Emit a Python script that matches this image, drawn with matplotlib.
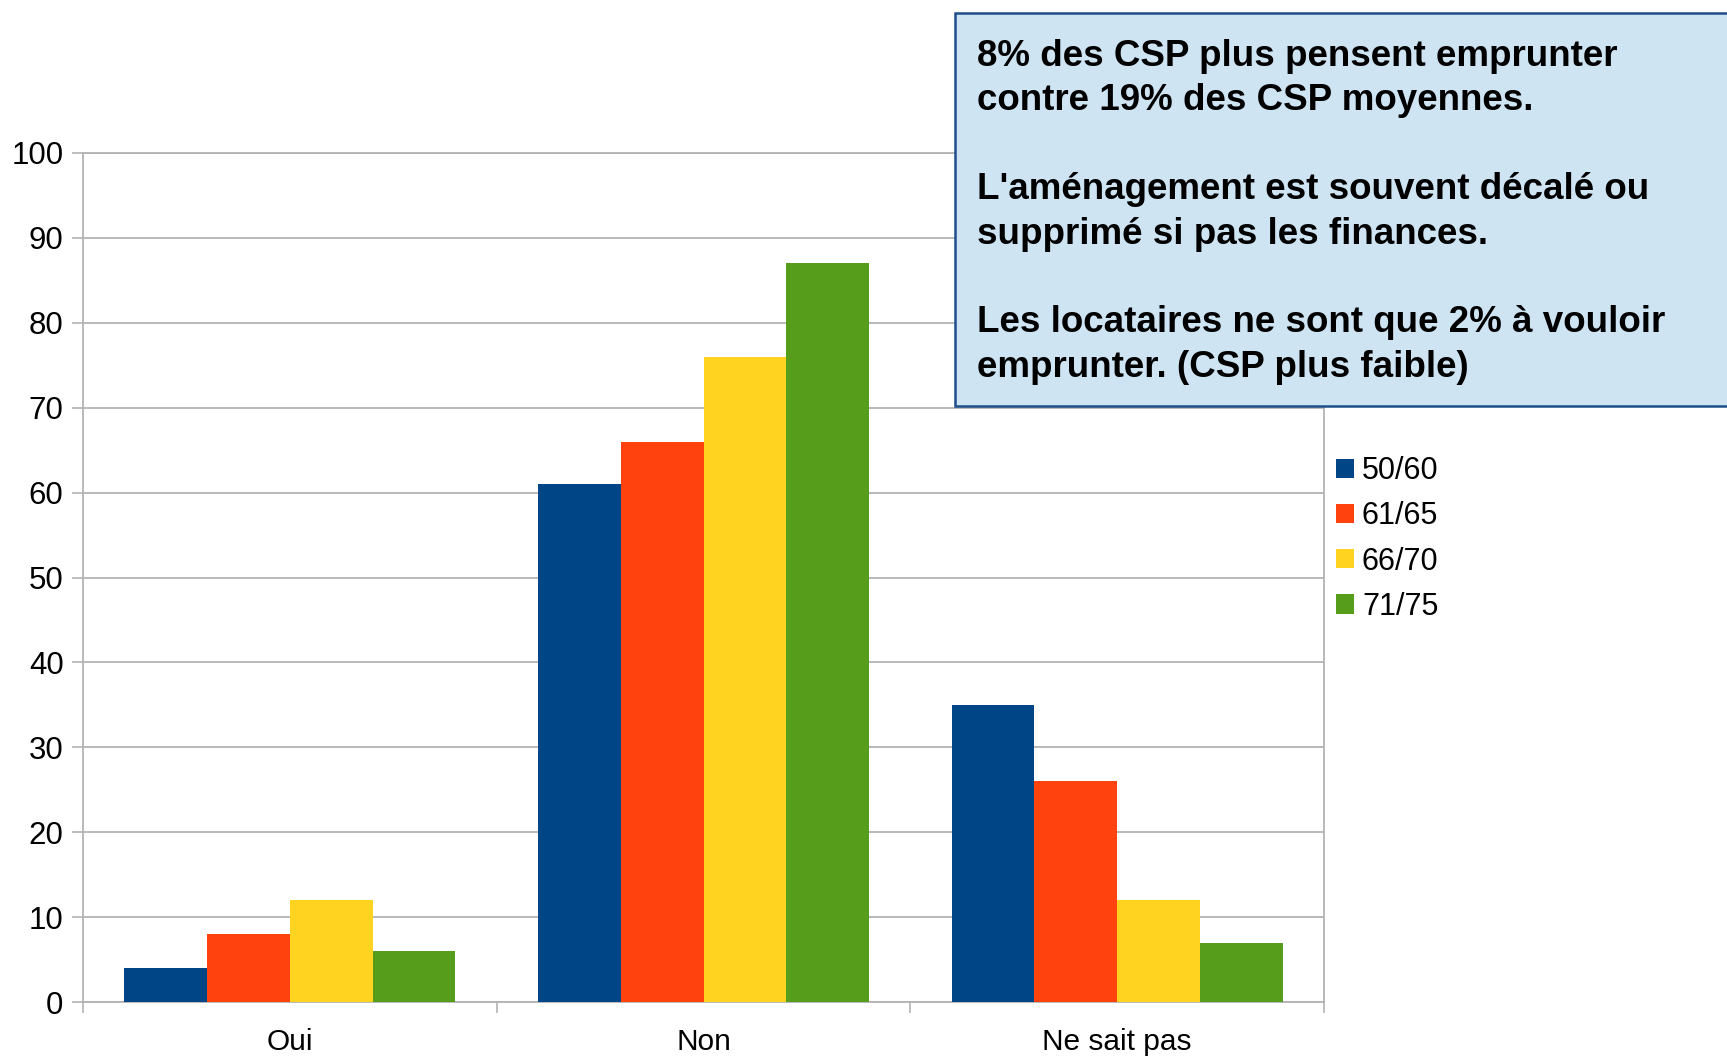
import numpy as np
import matplotlib.pyplot as plt
from matplotlib.patches import Rectangle

categories = ['Oui', 'Non', 'Ne sait pas']
series_names = ['50/60', '61/65', '66/70', '71/75']
v_50_60 = [4, 61, 35]
v_61_65 = [8, 66, 26]
v_66_70 = [12, 76, 12]
v_71_75 = [6, 87, 7]
colors = ['#004586', '#ff420e', '#ffd320', '#579d1c']

notes = [
    "8% des CSP plus pensent emprunter",
    "contre 19% des CSP moyennes.",
    "",
    "L'aménagement est souvent décalé ou",
    "supprimé si pas les finances.",
    "",
    "Les locataires ne sont que 2% à vouloir",
    "emprunter. (CSP plus faible)",
]

plt.rcParams['font.family'] = ['Liberation Sans', 'DejaVu Sans']
grey = '#b3b3b3'

fig = plt.figure(figsize=(17.27, 10.56), dpi=100)
ax = fig.add_axes([83 / 1727, 1 - 1002 / 1056, (1324 - 83) / 1727, (1002 - 153) / 1056])

x = np.arange(len(categories))
width = 0.2
all_values = [v_50_60, v_61_65, v_66_70, v_71_75]
for i, vals in enumerate(all_values):
    ax.bar(x + (i - 1.5) * width, vals, width, color=colors[i], label=series_names[i], zorder=3)

ax.set_xlim(-0.5, 2.5)
ax.set_ylim(0, 100)
ax.set_yticks(range(0, 101, 10))
ax.yaxis.grid(True, color=grey, linewidth=1.3, zorder=0)
ax.set_axisbelow(True)

# category boundaries as major ticks, names on minor ticks
ax.set_xticks([-0.5, 0.5, 1.5, 2.5])
ax.set_xticklabels([])
ax.set_xticks(x, minor=True)
ax.set_xticklabels(categories, minor=True)
ax.tick_params(axis='x', which='major', length=8, width=1.2, color=grey)
ax.tick_params(axis='x', which='minor', length=0, pad=19, labelsize=21.5)
ax.tick_params(axis='y', length=8, width=1.2, color=grey, pad=6, labelsize=22.5)

for s in ax.spines.values():
    s.set_color(grey)
    s.set_linewidth(1.3)

leg = fig.legend(loc='upper left', bbox_to_anchor=(1336 / 1727, 1 - 456 / 1056),
                 frameon=False, fontsize=22, handlelength=0.6, handleheight=0.6,
                 handletextpad=0.25, labelspacing=0.5, borderpad=0, borderaxespad=0)

# annotation box
box = Rectangle((955 / 1727, 1 - 406 / 1056), 1 - 955 / 1727 + 0.01, (406 - 13) / 1056,
                transform=fig.transFigure, facecolor='#cfe4f3', edgecolor='#1f4e8c',
                linewidth=1.8, zorder=5)
fig.patches.append(box)

for k, line in enumerate(notes):
    if line:
        fig.text(977 / 1727, 1 - (56 + k * 44.5) / 1056, line, fontsize=26.5,
                 fontweight='bold', va='center', ha='left', zorder=6)

fig.savefig('out.png', dpi=100)
